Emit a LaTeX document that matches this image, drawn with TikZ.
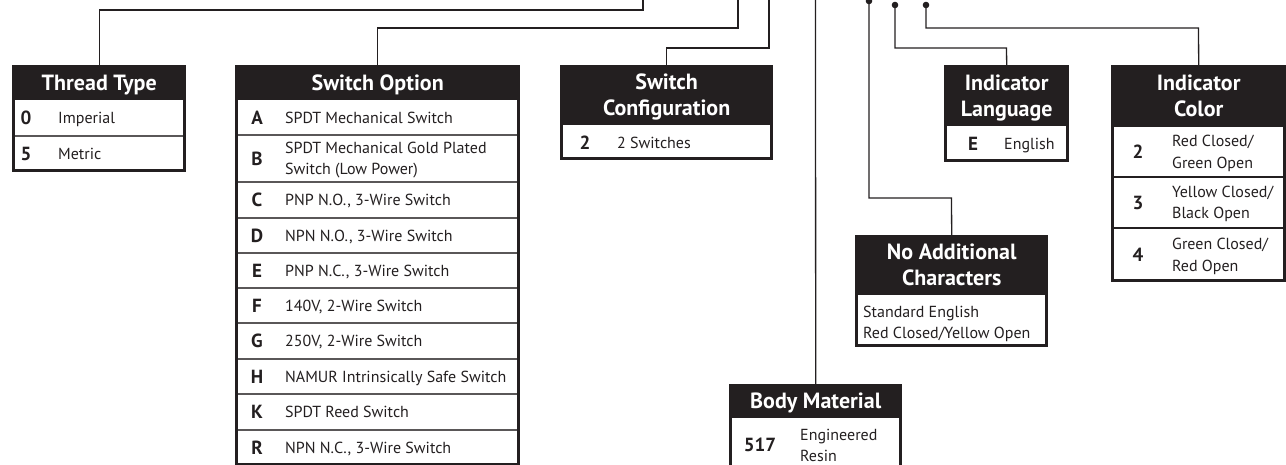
\documentclass[tikz,border=0pt]{standalone}
\usepackage{fontspec}
\setmainfont{PT Sans}
\definecolor{ink}{HTML}{231F20}
\newcommand\hdrfont{\fontsize{22}{26}\selectfont\bfseries}
\newcommand\keyfont{\fontsize{19}{20}\selectfont\bfseries}
\newcommand\descfont{\fontsize{16}{21.5}\selectfont}
\begin{document}
\begin{tikzpicture}[x=1pt,y=-1pt,
  hdr/.style={fill=ink,text=white,font=\hdrfont,inner sep=0pt,anchor=north west,align=center,text height=15.5pt,text depth=0pt},
  hdrtwo/.style={hdr,text height=41.5pt},
  key/.style={font=\keyfont,text=ink,inner sep=0pt,text height=13.3pt,text depth=0pt},
  desc/.style={font=\descfont,text=ink,inner sep=0pt,anchor=west,align=left,text height=11.5pt,text depth=0pt},
  desctwo/.style={desc,text height=33pt},
  frame/.style={draw=ink,line width=2.6pt},
  sep/.style={draw=ink!75,line width=1.1pt},
  conn/.style={draw=ink,line width=1.3pt},
  dot/.style={fill=ink}
]
\useasboundingbox (0,0) rectangle (1286,465);
\clip (0,0) rectangle (1286,465);

% ---------- Thread Type ----------
\node[hdr,minimum width=174pt,minimum height=35pt] (tt) at (12,65) {Thread Type};
\draw[sep] (12,136) -- (186,136);
\draw[frame] (13.3,100) -- (13.3,170.7) -- (184.7,170.7) -- (184.7,100);
\node[key] (tt0k) at (26,118) {0};
\node[desc] (tt0d) at (58,118) {Imperial};
\node[key] (tt5k) at (26,154) {5};
\node[desc] (tt5d) at (58,154) {Metric};

% ---------- Switch Option ----------
\node[hdr,minimum width=285pt,minimum height=35pt] (so) at (235,65) {Switch Option};
\foreach \y in {135,182,218,253,288,323,359,394,430} \draw[sep] (235,\y) -- (520,\y);
\draw[frame] (236.3,100) -- (236.3,464) -- (518.7,464) -- (518.7,100);
\foreach \n/\c/\d in {A/117.5/{SPDT Mechanical Switch},
  C/200/{PNP N.O., 3-Wire Switch},
  D/235.5/{NPN N.O., 3-Wire Switch},
  E/270.5/{PNP N.C., 3-Wire Switch},
  F/305.5/{140V, 2-Wire Switch},
  G/341/{250V, 2-Wire Switch},
  H/376.5/{NAMUR Intrinsically Safe Switch},
  K/412/{SPDT Reed Switch},
  R/447.5/{NPN N.C., 3-Wire Switch}}{
  \node[key] (so\n k) at (257,\c) {\n};
  \node[desc] (so\n d) at (285,\c) {\d};
}
\node[key] (soBk) at (257,158.5) {B};
\node[desctwo] (soBd) at (285,158.5) {SPDT Mechanical Gold Plated\\Switch (Low Power)};

% ---------- Switch Configuration ----------
\node[hdrtwo,minimum width=213pt,minimum height=60pt] (sc) at (560,65) {Switch\\Configuration};
\draw[frame] (561.3,125) -- (561.3,158.7) -- (771.7,158.7) -- (771.7,125);
\node[key] (sc2k) at (585,142.5) {2};
\node[desc] (sc2d) at (617,142.5) {2 Switches};

% ---------- Body Material ----------
\node[hdr,minimum width=173pt,minimum height=34pt] (bm) at (729,384) {Body Material};
\draw[frame] (730.3,418) -- (730.3,480) -- (900.7,480) -- (900.7,418);
\node[key] (bmk) at (760,445) {517};
\node[desctwo] (bmd) at (800,445) {Engineered\\Resin};

% ---------- No Additional Characters ----------
\node[hdrtwo,minimum width=193pt,minimum height=60pt] (nac) at (855,235) {No Additional\\Characters};
\draw[frame] (856.3,295) -- (856.3,345.7) -- (1046.7,345.7) -- (1046.7,295);
\node[desctwo] (nacd) at (863,322) {Standard English\\Red Closed/Yellow Open};

% ---------- Indicator Language ----------
\node[hdrtwo,minimum width=125pt,minimum height=61pt] (il) at (944,65) {Indicator\\Language};
\draw[frame] (945.3,126) -- (945.3,160.7) -- (1067.7,160.7) -- (1067.7,126);
\node[key] (ilEk) at (973,144) {E};
\node[desc] (ilEd) at (1004,144) {English};

% ---------- Indicator Color ----------
\node[hdrtwo,minimum width=175pt,minimum height=62pt] (ic) at (1111,65) {Indicator\\Color};
\draw[frame] (1111,177) -- (1286,177);
\draw[frame] (1111,228) -- (1286,228);
\draw[frame] (1112.3,127) -- (1112.3,280.7) -- (1284.5,280.7) -- (1284.5,127);
\node[key] (ic2k) at (1138,152) {2};
\node[desctwo] (ic2d) at (1172,152) {Red Closed/\\Green Open};
\node[key] (ic3k) at (1138,202.5) {3};
\node[desctwo] (ic3d) at (1172,202.5) {Yellow Closed/\\Black Open};
\node[key] (ic4k) at (1138,255) {4};
\node[desctwo] (ic4d) at (1172,255) {Green Closed/\\Red Open};

% ---------- connectors ----------
\coordinate (aM) at (643,10);   \coordinate (aT) at (643,0);
\coordinate (bM) at (738,28);   \coordinate (bT) at (738,0);
\coordinate (cM) at (769,48);   \coordinate (cT) at (769,0);
\coordinate (dT) at (815.5,0);
\coordinate (eT) at (869,1);    \coordinate (eM) at (951.5,198);
\coordinate (fT) at (895,5);    \coordinate (fM) at (1006.5,48);
\coordinate (gT) at (926,5);    \coordinate (gM) at (1198.5,28);

\draw[conn] (tt.north) |- (aM) -- (aT);
\draw[conn] (so.north) |- (bM) -- (bT);
\draw[conn] (sc.north) |- (cM) -- (cT);
\draw[conn] (bm.north) -- (dT);
\draw[conn] (eT) |- (eM) -- (nac.north);
\draw[conn] (fT) |- (fM) -- (il.north);
\draw[conn] (gT) |- (gM) -- (ic.north);
\fill[dot] (eT) circle (3.3);
\fill[dot] (fT) circle (3.3);
\fill[dot] (gT) circle (3.3);
\end{tikzpicture}
\end{document}
